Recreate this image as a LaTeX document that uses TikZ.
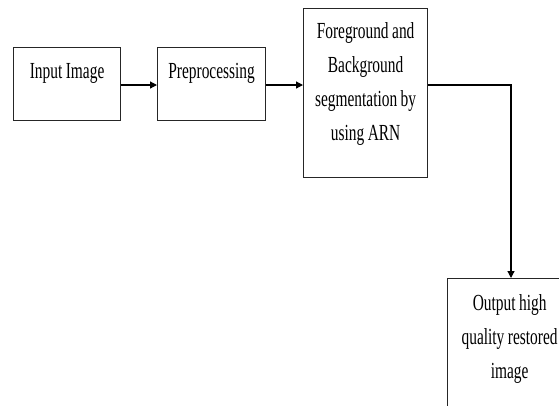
\documentclass[tikz,border=0pt]{standalone}
\usepackage{fontspec}
\setmainfont[FakeStretch=0.67]{Liberation Serif}
\usetikzlibrary{arrows.meta}
\newcommand\narrowspace{\spaceskip=3.5pt\relax}
\begin{document}
\begin{tikzpicture}[x=1pt,y=-1pt,
  box/.style={draw=black!85, line width=1.2pt, inner sep=0pt, anchor=north west,
    align=center, font=\fontsize{23}{34}\selectfont, execute at begin node=\narrowspace},
  arr/.style={draw=black, line width=1.2pt, -{Triangle[length=7pt,width=7pt]}}]
\clip (0,0) rectangle (559,405);
\useasboundingbox (0,0) rectangle (559,405);
\node[box, minimum width=107pt, text width=105pt, text height=31pt, text depth=42pt] (b1) at (13,47) {Input Image};
\node[box, minimum width=108pt, text width=106pt, text height=31pt, text depth=42pt] (b2) at (157,47) {Preprocessing};
\node[box, minimum width=124pt, text width=122pt, text height=30pt, text depth=139pt] (b3) at (303,8) {Foreground and\\Background\\segmentation by\\using ARN};
\node[box, minimum width=124pt, text width=122pt, text height=32pt, text depth=137pt] (b4) at (447,278) {Output high\\quality restored\\image};
\coordinate (row) at (0,85);
\coordinate (turn) at (511,85);
\draw[arr] (b1.east |- row) -- (b2.west |- row);
\draw[arr] (b2.east |- row) -- (b3.west |- row);
\draw[arr] (b3.east |- row) -- (turn) -- (turn |- b4.north);
\end{tikzpicture}
\end{document}
